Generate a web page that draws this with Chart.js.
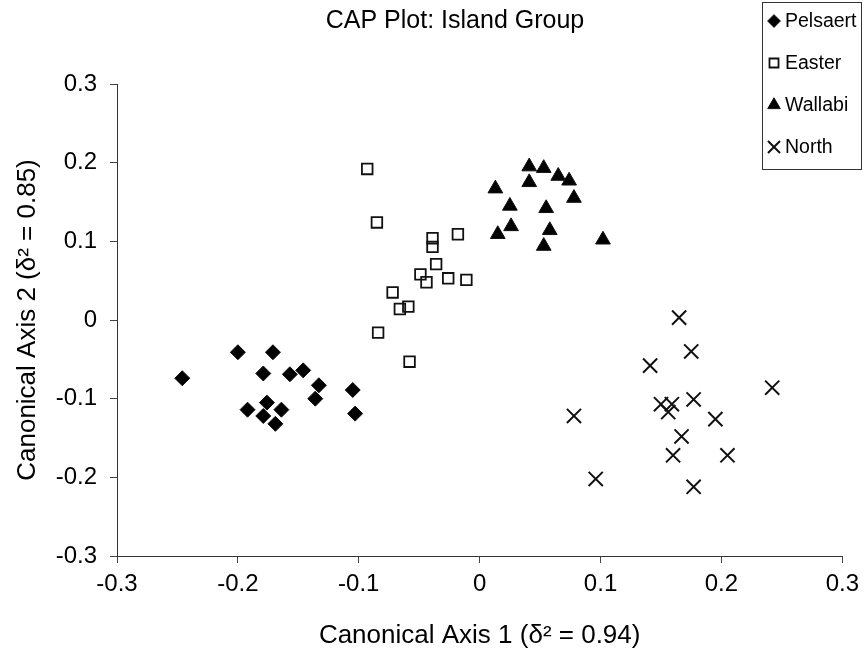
<!DOCTYPE html>
<html>
<head>
<meta charset="utf-8">
<script src="https://cdn.jsdelivr.net/npm/chart.js@4/dist/chart.umd.min.js"></script>
<style>
  html, body { margin: 0; padding: 0; background: #fff; }
  #wrap { width: 866px; height: 657px; }
</style>
</head>
<body>
<div id="wrap"><canvas id="capChart" width="866" height="657"></canvas></div>
<script>
// values
const pelsaertX = [-0.246, -0.200, -0.171, -0.179, -0.157, -0.146, -0.133, -0.136, -0.105, -0.103, -0.192, -0.176, -0.164, -0.179, -0.169]
const pelsaertY = [-0.074, -0.041, -0.041, -0.068, -0.069, -0.064, -0.083, -0.100, -0.089, -0.119, -0.114, -0.105, -0.114, -0.122, -0.132]

const easterX = [-0.093, -0.085, -0.018, -0.039, -0.039, -0.036, -0.049, -0.044, -0.026, -0.011, -0.072, -0.066, -0.059, -0.084, -0.058]
const easterY = [0.192, 0.124, 0.109, 0.104, 0.093, 0.071, 0.058, 0.048, 0.053, 0.051, 0.035, 0.014, 0.017, -0.016, -0.053]

const wallabiX = [0.041, 0.053, 0.065, 0.074, 0.041, 0.013, 0.078, 0.025, 0.055, 0.026, 0.015, 0.058, 0.053, 0.102]
const wallabiY = [0.195, 0.193, 0.183, 0.177, 0.175, 0.167, 0.155, 0.145, 0.142, 0.119, 0.109, 0.114, 0.094, 0.102]

const northX = [0.165, 0.175, 0.141, 0.242, 0.177, 0.150, 0.159, 0.156, 0.078, 0.195, 0.167, 0.160, 0.205, 0.096, 0.177]
const northY = [0.003, -0.040, -0.058, -0.086, -0.101, -0.107, -0.107, -0.117, -0.122, -0.126, -0.148, -0.172, -0.172, -0.202, -0.212]

const groupNames = ['Pelsaert', 'Easter', 'Wallabi', 'North']
const axisTicks = [-0.3, -0.2, -0.1, 0, 0.1, 0.2, 0.3]

const FONT = 'Arial, "Liberation Sans", sans-serif'

function toPoints(xs, ys) {
    return xs.map((x, i) => ({x: x, y: ys[i]}))
}

const markerStyles = [
    {pointStyle: 'rectRot', radius: 7.5, borderWidth: 1, fill: '#000'},
    {pointStyle: 'rect', radius: 7.5, borderWidth: 1.8, fill: 'rgba(0,0,0,0)'},
    {pointStyle: 'triangle', radius: 8.5, borderWidth: 1, fill: '#000'},
    {pointStyle: 'crossRot', radius: 10, borderWidth: 2, fill: 'rgba(0,0,0,0)'}
]

const seriesData = [
    toPoints(pelsaertX, pelsaertY),
    toPoints(easterX, easterY),
    toPoints(wallabiX, wallabiY),
    toPoints(northX, northY)
]

const datasets = groupNames.map((name, i) => ({
    label: name,
    data: seriesData[i],
    pointStyle: markerStyles[i].pointStyle,
    pointRadius: markerStyles[i].radius,
    pointHoverRadius: markerStyles[i].radius,
    pointBorderWidth: markerStyles[i].borderWidth,
    pointBackgroundColor: markerStyles[i].fill,
    pointBorderColor: '#111',
    showLine: false
}))

// title and boxed legend sit outside the plot area, so draw them by hand
const decorations = {
    id: 'decorations',
    afterDraw(chart) {
        const ctx = chart.ctx
        ctx.save()
        ctx.fillStyle = '#000'
        ctx.font = '25px ' + FONT
        ctx.textAlign = 'center'
        ctx.textBaseline = 'middle'
        ctx.fillText('CAP Plot: Island Group', 455, 21)

        // legend box
        ctx.strokeStyle = '#333'
        ctx.lineWidth = 1
        ctx.strokeRect(762.5, 2.5, 99, 167)
        ctx.font = '19.5px ' + FONT
        ctx.textAlign = 'left'
        groupNames.forEach((name, i) => {
            const y = 21 + i * 42
            const m = markerStyles[i]
            ctx.fillStyle = m.fill
            ctx.strokeStyle = '#111'
            ctx.lineWidth = m.borderWidth
            Chart.helpers.drawPoint(ctx, {
                pointStyle: m.pointStyle,
                radius: m.radius * 0.85,
                rotation: 0,
                borderWidth: m.borderWidth
            }, 774, y)
            ctx.fillStyle = '#000'
            ctx.fillText(name, 785, y + 1)
        })
        ctx.restore()
    }
}

new Chart(document.getElementById('capChart'), {
    type: 'scatter',
    data: {datasets: datasets},
    options: {
        responsive: false,
        animation: false,
        devicePixelRatio: 1,
        layout: {padding: {top: 84, right: 18, bottom: 0, left: 0}},
        plugins: {
            legend: {display: false},
            tooltip: {enabled: false}
        },
        scales: {
            x: {
                type: 'linear',
                min: -0.3,
                max: 0.3,
                afterFit: (scale) => { scale.height = 101 },
                afterBuildTicks: (scale) => { scale.ticks = axisTicks.map(v => ({value: v})) },
                ticks: {
                    color: '#000',
                    padding: 7,
                    font: {family: FONT, size: 24},
                    callback: (v) => (Math.round(v * 10) / 10).toString()
                },
                grid: {drawOnChartArea: false, drawTicks: true, tickLength: 7, color: '#444'},
                border: {color: '#333', width: 1},
                title: {
                    display: true,
                    text: 'Canonical Axis 1 (δ² = 0.94)',
                    color: '#000',
                    font: {family: FONT, size: 26},
                    padding: {top: 0, bottom: 6}
                }
            },
            y: {
                type: 'linear',
                min: -0.3,
                max: 0.3,
                afterFit: (scale) => { scale.width = 117 },
                afterBuildTicks: (scale) => { scale.ticks = axisTicks.map(v => ({value: v})) },
                ticks: {
                    color: '#000',
                    padding: 13,
                    font: {family: FONT, size: 24},
                    callback: (v) => (Math.round(v * 10) / 10).toString()
                },
                grid: {drawOnChartArea: false, drawTicks: true, tickLength: 7, color: '#444'},
                border: {color: '#333', width: 1},
                title: {
                    display: true,
                    text: 'Canonical Axis 2 (δ² = 0.85)',
                    color: '#000',
                    font: {family: FONT, size: 26},
                    padding: {top: 12, bottom: 0}
                }
            }
        }
    },
    plugins: [decorations]
})
</script>
</body>
</html>
